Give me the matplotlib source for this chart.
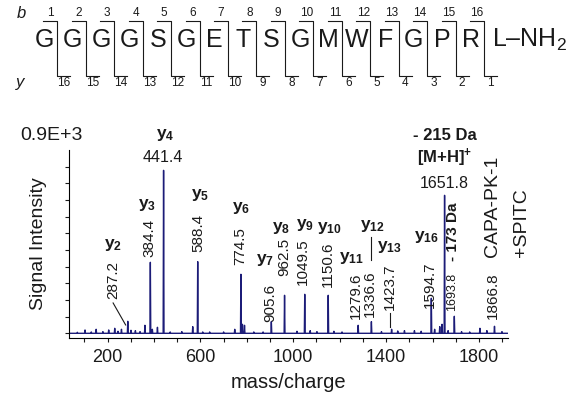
import numpy as np
import matplotlib
matplotlib.use("Agg")
import matplotlib.pyplot as plt

plt.rcParams['font.family'] = ['Liberation Sans', 'DejaVu Sans']
plt.rcParams['mathtext.fontset'] = 'custom'
plt.rcParams['mathtext.rm'] = 'Liberation Sans'
plt.rcParams['mathtext.bf'] = 'Liberation Sans:bold'
plt.rcParams['mathtext.it'] = 'Liberation Sans:italic'

# peptide sequence
residues = ["G", "G", "G", "G", "S", "G", "E", "T", "S", "G", "M", "W", "F", "G", "P", "R"]
c_term = "L–NH$_2$"

# labelled peaks: m/z, intensity (a.u.), ion label
peak_mz = [287.2, 384.4, 441.4, 588.4, 774.5, 905.6, 962.5, 1049.5, 1150.6,
           1279.6, 1336.6, 1423.7, 1594.7, 1651.8, 1693.8, 1866.8]
peak_int = [0.36, 2.13, 4.89, 2.15, 1.77, 0.35, 1.14, 1.17, 1.14,
            0.24, 0.35, 0.12, 1.05, 4.14, 0.51, 0.21]
peak_ion = ["2", "3", "4", "5", "6", "7", "8", "9", "10",
            "11", "12", "13", "16", "", "", ""]

# small unlabelled peaks / baseline noise
minor_mz = [31, 70, 103, 130, 151, 180, 205, 231, 245, 260, 301, 320, 340, 361,
            393, 415, 470, 520, 567, 610, 640, 700, 748, 781, 790, 830, 870,
            1016, 1073, 1102, 1175, 1210, 1380, 1450, 1479, 1522, 1551, 1609,
            1631, 1641, 1667, 1725, 1760, 1804, 1834, 1899]
minor_int = [0.08, 0.03, 0.1, 0.04, 0.12, 0.05, 0.1, 0.15, 0.06, 0.12, 0.09, 0.08,
             0.05, 0.24, 0.12, 0.18, 0.04, 0.05, 0.2, 0.04, 0.04, 0.04, 0.12, 0.27,
             0.24, 0.04, 0.04, 0.06, 0.08, 0.05, 0.06, 0.04, 0.05, 0.07, 0.08, 0.08,
             0.06, 0.12, 0.2, 0.27, 0.08, 0.05, 0.04, 0.15, 0.08, 0.05]

navy = "#1c1c78"
ink = "#1a1a1a"

fig = plt.figure(figsize=(5.71, 3.97), dpi=100)

# ---- spectrum ----
ax = fig.add_axes([69 / 571, 1 - 337.7 / 397, (508 - 69) / 571, (337.7 - 150) / 397])
mz_all = np.array(peak_mz + minor_mz)
it_all = np.array(peak_int + minor_int)
order = np.argsort(mz_all)
xs, ys = [34], [0.0]
for m, h in zip(mz_all[order], it_all[order]):
    xs += [m - 1.8, m, m + 1.8]
    ys += [0.0, h, 0.0]
xs.append(1925)
ys.append(0.0)
ax.plot(xs, ys, color=navy, lw=1.0)

ax.set_xlim(34, 1925)
ax.set_ylim(-0.132, 5.5)
ax.spines['top'].set_visible(False)
ax.spines['right'].set_visible(False)
ax.set_xticks([200, 600, 1000, 1400, 1800])
ax.set_xticks(np.arange(100, 1901, 100), minor=True)
ax.set_yticks(np.arange(0, 5.1, 1))
ax.set_yticks(np.arange(0.5, 5.5, 1), minor=True)
ax.set_yticklabels([])
ax.tick_params(which='both', direction='out', length=3, width=0.8, colors=ink)
ax.tick_params(axis='x', labelsize=13, pad=5)
ax.set_xlabel("mass/charge", fontsize=14.5, color=ink, labelpad=5)
ax.set_ylabel("Signal Intensity", fontsize=14, color=ink, labelpad=9)
ax.text(-0.04, 1.03, "0.9E+3", transform=ax.transAxes, fontsize=14,
        color=ink, ha='center', va='bottom')

# m/z labels: (text x, text y) in data units
lab_pos = {287.2: (223, 1.6), 384.4: (382, 2.86), 588.4: (590, 3.01),
           774.5: (773, 2.62), 905.6: (899, 0.92), 962.5: (963, 2.29),
           1049.5: (1042, 2.15), 1150.6: (1150, 2.08), 1279.6: (1268, 1.12),
           1336.6: (1332, 1.18), 1423.7: (1415, 1.39), 1594.7: (1588, 1.45),
           1866.8: (1860, 1.12)}
for m, (tx, ty) in lab_pos.items():
    ax.text(tx, ty, f"{m:.1f}", rotation=90, fontsize=11, color=ink,
            ha='center', va='center', clip_on=False)
ax.text(1685, 1.24, "1693.8", rotation=90, fontsize=9, color=ink,
        ha='center', va='center', clip_on=False)
ax.text(437, 5.27, "441.4", fontsize=11.5, color=ink, ha='center', va='center', clip_on=False)
ax.text(1652, 4.5, "1651.8", fontsize=11.5, color=ink, ha='center', va='center', clip_on=False)

# ion labels
ion_pos = {"2": (223, 2.65), "3": (369, 3.85), "4": (447, 5.95), "5": (597, 4.15),
           "6": (777, 3.76), "7": (877, 2.2), "8": (949, 3.16), "9": (1049, 3.25),
           "10": (1157, 3.16), "11": (1250, 2.26), "12": (1343, 3.22),
           "13": (1415, 2.59), "16": (1573, 2.9)}
for n in peak_ion:
    if n:
        tx, ty = ion_pos[n]
        ax.text(tx, ty, r"$\mathbf{y_{%s}}$" % n, fontsize=12.5, color=ink,
                ha='center', va='center', clip_on=False)

ax.text(1652, 5.95, "- 215 Da", fontsize=12, fontweight='bold', color=ink,
        ha='center', va='center', clip_on=False)
ax.text(1652, 5.25, r"$\mathbf{[M{+}H]^{+}}$", fontsize=12, color=ink,
        ha='center', va='center', clip_on=False)
ax.text(1688, 3.04, "- 173 Da", rotation=90, fontsize=11, fontweight='bold', color=ink,
        ha='center', va='center', clip_on=False)
ax.text(1860, 3.82, "CAPA-PK-1", rotation=90, fontsize=14, color=ink,
        ha='center', va='center', clip_on=False)
ax.text(1982, 3.31, "+SPITC", rotation=90, fontsize=14, color=ink,
        ha='center', va='center', clip_on=False)

# leader lines
ax.plot([224, 278], [0.91, 0.25], color=ink, lw=0.8, clip_on=False)
ax.plot([1334, 1334], [2.2, 2.9], color=ink, lw=0.8, clip_on=False)
ax.plot([1415, 1415], [0.19, 0.6], color=ink, lw=0.8, clip_on=False)

# ---- sequence header (pixel coordinates) ----
hd = fig.add_axes([0, 0, 1, 1])
hd.set_xlim(0, 571)
hd.set_ylim(397, 0)
hd.axis('off')
step = 28.45
div0 = 57.3
n_res = len(residues)
for k, r in enumerate(residues):
    hd.text(div0 + step * (k - 0.5) + 1, 40, r, fontsize=18, color=ink, ha='center', va='center')
hd.text(div0 + step * (n_res - 1) + 8, 40, c_term, fontsize=18, color=ink, ha='left', va='center')
for i in range(n_res):
    xd = div0 + step * i
    hd.plot([xd - 14, xd, xd, xd + 13], [20.7, 20.7, 75.8, 75.8], color=ink, lw=0.8)
    hd.text(xd - 7, 13.5, str(i + 1), fontsize=8.5, color=ink, ha='center', va='center')
    hd.text(xd + 6.5, 83, str(n_res - i), fontsize=8.5, color=ink, ha='center', va='center')
hd.text(21, 14, "b", fontsize=12, style='italic', color=ink, ha='center', va='center')
hd.text(20, 82, "y", fontsize=12, style='italic', color=ink, ha='center', va='center')

fig.savefig("out.png", dpi=100)
